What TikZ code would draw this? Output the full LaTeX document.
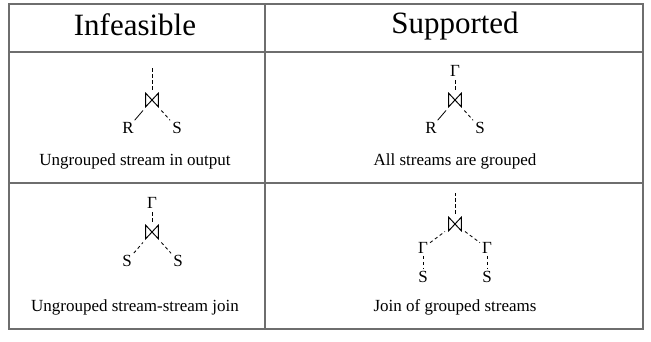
\documentclass[tikz,border=0pt]{standalone}
\usepackage{fontspec}
\setmainfont{Liberation Serif}
\definecolor{gridgray}{HTML}{6E6E6E}
\begin{document}
\begin{tikzpicture}[x=1pt,y=-1pt,
  frame/.style={draw=gridgray,line width=2.4pt},
  head/.style={font=\fontsize{31}{33}\selectfont,anchor=base,inner sep=0pt},
  caption/.style={font=\fontsize{17}{19}\selectfont,anchor=base,inner sep=0pt},
  lbl/.style={font=\fontsize{17}{19}\selectfont,inner sep=2pt},
  % join operator drawn as a bow tie: two bars joined by crossing diagonals
  jn/.style={minimum width=14pt,minimum height=15pt,inner sep=0pt,outer sep=3pt,
    path picture={\draw[line width=0.95pt,line join=miter]
      ([shift={(0.6pt,-0.6pt)}]path picture bounding box.north west) --
      ([shift={(0.6pt,0.6pt)}]path picture bounding box.south west) --
      ([shift={(-0.6pt,-0.6pt)}]path picture bounding box.north east) --
      ([shift={(-0.6pt,0.6pt)}]path picture bounding box.south east) -- cycle;}},
  solidedge/.style={line width=0.8pt},
  dashedge/.style={line width=0.85pt,dash pattern=on 3.2pt off 2.8pt}]
\useasboundingbox (0,0) rectangle (651,341);

% table frame
\draw[frame] (9,4) rectangle (643,329);
\draw[frame] (9,52) -- (643,52);
\draw[frame] (9,183) -- (643,183);
\draw[frame] (265,4) -- (265,329);

% headers
\node[head] (hinf) at (135,35) {Infeasible};
\node[head] (hsup) at (455,33) {Supported};

% top left: ungrouped stream in output
\node[jn] (j1) at (152,100) {};
\node[lbl] (r1) at (128,128) {R};
\node[lbl] (s1) at (177,128) {S};
\coordinate (o1) at (152,66);
\draw[dashedge] (j1) -- (o1);
\draw[solidedge] (r1) -- (j1);
\draw[dashedge] (j1) -- (s1);
\node[caption] (c1) at (135,165) {Ungrouped stream in output};

% top right: all streams are grouped
\node[jn] (j2) at (455,100) {};
\node[lbl] (g2) at (455,71) {Γ};
\node[lbl] (r2) at (431,128) {R};
\node[lbl] (s2) at (480,128) {S};
\draw[dashedge] (j2) -- (g2);
\draw[solidedge] (r2) -- (j2);
\draw[dashedge] (j2) -- (s2);
\node[caption] (c2) at (455,165) {All streams are grouped};

% bottom left: ungrouped stream-stream join
\node[jn] (j3) at (152,232) {};
\node[lbl] (g3) at (152,203) {Γ};
\node[lbl] (sa3) at (127,261) {S};
\node[lbl] (sb3) at (178,261) {S};
\draw[dashedge] (j3) -- (g3);
\draw[dashedge] (sa3) -- (j3);
\draw[dashedge] (j3) -- (sb3);
\node[caption] (c3) at (135,311) {Ungrouped stream-stream join};

% bottom right: join of grouped streams
\node[jn] (j4) at (455,224) {};
\coordinate (o4) at (455,193);
\node[lbl] (ga4) at (423,248) {Γ};
\node[lbl] (gb4) at (487,248) {Γ};
\node[lbl] (sa4) at (423,277) {S};
\node[lbl] (sb4) at (487,277) {S};
\draw[dashedge] (j4) -- (o4);
\draw[dashedge] (ga4) -- (j4);
\draw[dashedge] (j4) -- (gb4);
\draw[dashedge] (ga4) -- (sa4);
\draw[dashedge] (gb4) -- (sb4);
\node[caption] (c4) at (455,311) {Join of grouped streams};
\end{tikzpicture}
\end{document}
